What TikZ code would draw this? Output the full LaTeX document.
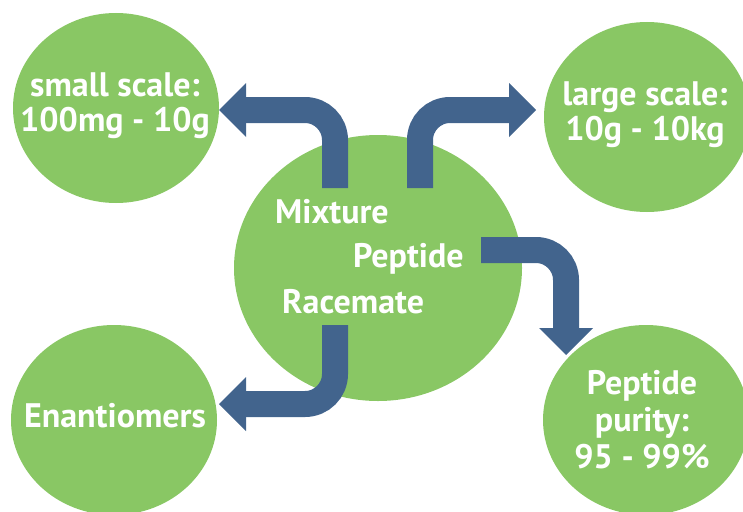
\documentclass[tikz,border=0pt]{standalone}
\usepackage{fontspec}
\setmainfont{PT Sans}
\usetikzlibrary{arrows.meta,shapes.geometric}
\definecolor{leaf}{RGB}{137,199,100}
\definecolor{ink}{RGB}{66,100,141}
\tikzstyle{blob}=[ellipse,fill=leaf,minimum width=206pt,minimum height=190pt,inner sep=0pt]
\tikzstyle{word}=[inner sep=0pt,text=white,align=center,font=\bfseries\fontsize{34}{35}\selectfont]
\tikzstyle{flow}=[draw=ink,line width=26pt,rounded corners=30pt,-{Triangle[length=27pt,width=54pt,line width=0pt]}]

\begin{document}
\begin{tikzpicture}[x=1pt,y=-1pt]
\useasboundingbox (0,0) rectangle (743,511);
% circles
\node [blob] (small) at (116,108) {};
\node [blob] (large) at (647,117) {};
\node [blob,minimum width=288pt,minimum height=266pt] (mix) at (378,268) {};
\node [blob] (enant) at (114,420) {};
\node [blob] (purity) at (646,420) {};
% texts
\node [word] (smalltxt) at (115,106) {small scale:\\100mg - 10g};
\node [word] (largetxt) at (645,115) {large scale:\\10g - 10kg};
\node [word] (enanttxt) at (115,416) {Enantiomers};
\node [word,font=\bfseries\fontsize{34}{37}\selectfont] (puritytxt) at (642,420) {Peptide\\purity:\\95 - 99\%};
\node [word,anchor=base west] (mixture) at (275,223) {Mixture};
\node [word,anchor=base west] (peptide) at (353,267) {Peptide};
\node [word,anchor=base west] (racemate) at (282,313) {Racemate};
% arrows
\coordinate (s1) at (335,188);
\coordinate (t1) at (219,110);
\coordinate (s2) at (420,188);
\coordinate (t2) at (536,110);
\coordinate (s3) at (481,250);
\coordinate (t3) at (566,355);
\coordinate (s4) at (335,325);
\coordinate (t4) at (219,404);
\draw [flow] (s1) |- (t1);
\draw [flow] (s2) |- (t2);
\draw [flow] (s3) -| (t3);
\draw [flow] (s4) |- (t4);
\end{tikzpicture}
\end{document}
